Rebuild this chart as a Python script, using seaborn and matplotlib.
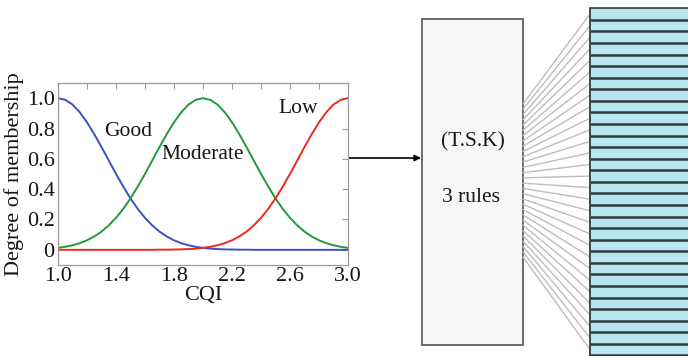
import numpy as np
import pandas as pd
import matplotlib
matplotlib.use("Agg")
import matplotlib.pyplot as plt
from matplotlib.patches import Rectangle
import seaborn as sns

# CQI sampling grid and membership degrees of the three fuzzy sets
cqi = np.linspace(1.0, 3.0, 41)
good = [1.000, 0.989, 0.958, 0.907, 0.841, 0.763, 0.678, 0.589, 0.501, 0.417,
        0.339, 0.270, 0.211, 0.161, 0.120, 0.088, 0.063, 0.044, 0.030, 0.020,
        0.013, 0.008, 0.005, 0.003, 0.002, 0.001, 0.001, 0.000, 0.000, 0.000,
        0.000, 0.000, 0.000, 0.000, 0.000, 0.000, 0.000, 0.000, 0.000, 0.000,
        0.000]
moderate = [0.013, 0.020, 0.030, 0.044, 0.063, 0.088, 0.120, 0.161, 0.211, 0.270,
            0.339, 0.417, 0.501, 0.589, 0.678, 0.763, 0.841, 0.907, 0.958, 0.989,
            1.000, 0.989, 0.958, 0.907, 0.841, 0.763, 0.678, 0.589, 0.501, 0.417,
            0.339, 0.270, 0.211, 0.161, 0.120, 0.088, 0.063, 0.044, 0.030, 0.020,
            0.013]
low = good[::-1]

set_names = ["Good", "Moderate", "Low"]
set_colors = ["#3f4fc4", "#1f9a3c", "#ee2a1e"]
x_ticks = [1.0, 1.4, 1.8, 2.2, 2.6, 3.0]
x_ticklabels = ["1.0", "1.4", "1.8", "2.2", "2.6", "3.0"]
y_ticks = [0.0, 0.2, 0.4, 0.6, 0.8, 1.0]
y_ticklabels = ["0", "0.2", "0.4", "0.6", "0.8", "1.0"]

box_lines = ["(T.S.K)", "3 rules"]
n_outputs = 30

df = pd.DataFrame({
    "CQI": np.tile(cqi, 3),
    "mu": np.concatenate([good, moderate, low]),
    "set": np.repeat(set_names, len(cqi)),
})

sns.set_theme(style="white")
plt.rcParams["font.family"] = ["Liberation Serif", "DejaVu Serif"]
plt.rcParams["xtick.direction"] = "in"
plt.rcParams["ytick.direction"] = "in"

W, H = 688, 356
fig = plt.figure(figsize=(W / 100, H / 100), dpi=100)
TXT = "#161616"

# membership function panel
ax = fig.add_axes([58 / W, 91 / H, 290 / W, 182 / H])
sns.lineplot(data=df, x="CQI", y="mu", hue="set", palette=dict(zip(set_names, set_colors)),
             linewidth=1.4, legend=False, ax=ax)
ax.set_xlim(1.0, 3.0)
ax.set_ylim(-0.1, 1.1)
ax.set_xticks(x_ticks)
ax.set_xticklabels(x_ticklabels)
ax.set_xticks(np.arange(1.2, 3.0, 0.4), minor=True)
ax.set_yticks(y_ticks)
ax.set_yticklabels(y_ticklabels)
ax.tick_params(axis="both", which="both", top=True, right=True, length=4,
               width=0.8, color="#999999", labelsize=16, labelcolor=TXT)
ax.tick_params(axis="x", which="both", pad=1.5)
ax.tick_params(axis="y", which="both", pad=2.5)
ax.set_xlabel("CQI", fontsize=16, labelpad=0, color=TXT)
ax.set_ylabel("Degree of membership", fontsize=16, labelpad=2, color=TXT)
for s in ax.spines.values():
    s.set_color("#999999")
    s.set_linewidth(0.9)

ax.text(1.32, 0.78, "Good", fontsize=15.5, ha="left", va="center", color=TXT)
ax.text(1.715, 0.63, "Moderate", fontsize=15.5, ha="left", va="center", color=TXT)
ax.text(2.52, 0.93, "Low", fontsize=15.5, ha="left", va="center", color=TXT)

# diagram overlay in pixel coordinates
ov = fig.add_axes([0, 0, 1, 1], zorder=-1)
ov.set_xlim(0, W)
ov.set_ylim(H, 0)
ov.axis("off")

ov.annotate("", xy=(421, 158), xytext=(348, 158),
            arrowprops=dict(arrowstyle="-|>", color="black", lw=1.2,
                            mutation_scale=9, shrinkA=0, shrinkB=0))

ov.add_patch(Rectangle((422, 19), 101, 326, facecolor="#f7f7f7",
                       edgecolor="#555555", linewidth=1.2))
ov.text(473, 142, box_lines[0], fontsize=15.5, ha="center", va="center", color=TXT)
ov.text(471, 197, box_lines[1], fontsize=15.5, ha="center", va="center", color=TXT)

# output stack
row_h = 11.57
top = 8.3
stack_x = 590
for i in range(n_outputs):
    y0 = top + i * row_h
    ov.add_patch(Rectangle((stack_x, y0), W - stack_x + 5, row_h,
                           facecolor="#b9e7f1", edgecolor="none"))
    ov.plot([stack_x, W], [y0, y0], color="#2f3c3e", lw=1.8 if i else 1.2,
            solid_capstyle="butt")
    # connection from the rule box to each output
    ys = 104 + i * (257 - 104) / (n_outputs - 1)
    ov.plot([523, stack_x], [ys, y0 + row_h / 2], color="#bdbdbd", lw=1.0, zorder=1)
ov.plot([stack_x, stack_x], [top, H], color="#3a4a4c", lw=1.4)
ov.plot([stack_x, W], [top + n_outputs * row_h, top + n_outputs * row_h],
        color="#2f3c3e", lw=1.8)

fig.savefig("out.png", dpi=100)
